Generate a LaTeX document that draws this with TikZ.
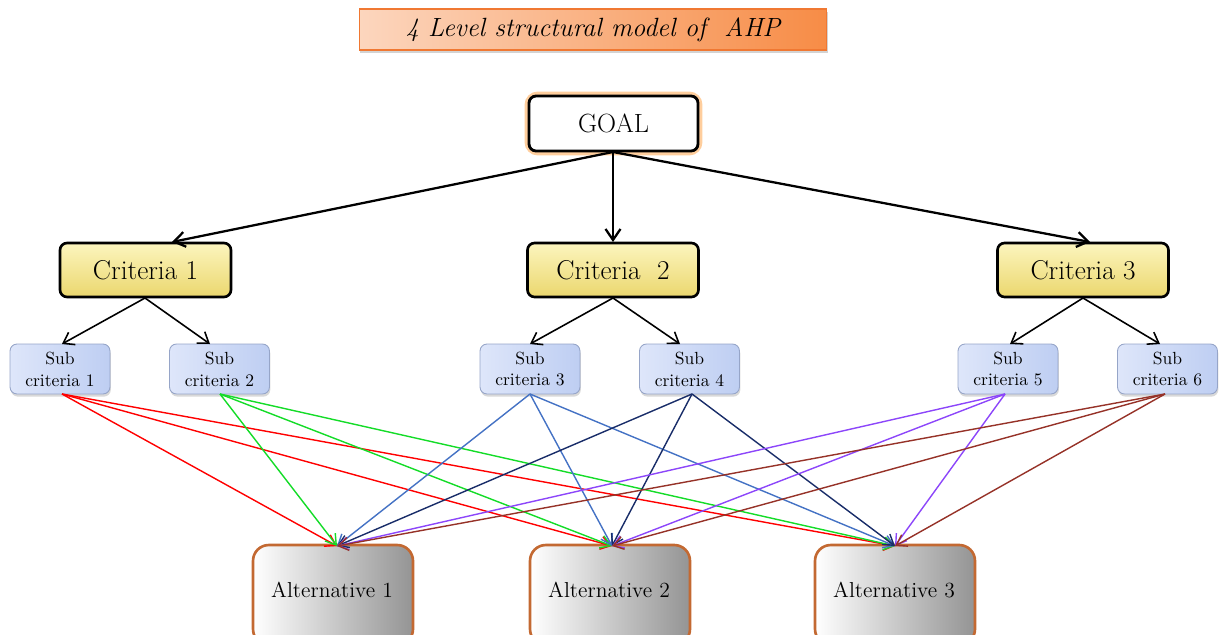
\documentclass[tikz,border=0pt]{standalone}
\usetikzlibrary{arrows.meta,shadows}
\definecolor{titleL}{RGB}{252,214,190}
\definecolor{titleR}{RGB}{247,140,70}
\definecolor{titleB}{RGB}{240,120,50}
\definecolor{critT}{RGB}{252,245,190}
\definecolor{critB}{RGB}{235,215,110}
\definecolor{subL}{RGB}{222,230,250}
\definecolor{subR}{RGB}{190,206,242}
\definecolor{subB}{RGB}{150,165,200}
\definecolor{altB}{RGB}{195,105,50}
\definecolor{cRed}{RGB}{255,0,0}
\definecolor{cGreen}{RGB}{20,220,40}
\definecolor{cBlue}{RGB}{68,114,196}
\definecolor{cNavy}{RGB}{25,45,105}
\definecolor{cPurple}{RGB}{140,70,250}
\definecolor{cBrown}{RGB}{150,50,40}
\tikzset{
  px/.style={x=0.02cm,y=-0.02cm},
  titlebox/.style={draw=titleB,line width=0.6pt,left color=titleL,right color=titleR,minimum width=9.36cm,minimum height=0.82cm,inner sep=0pt,drop shadow={shadow xshift=0.5pt,shadow yshift=-1.5pt,opacity=0.35}},
  goalbox/.style={draw=black,line width=1.6pt,fill=white,rounded corners=4pt,minimum width=3.38cm,minimum height=1.1cm,inner sep=0pt},
  critbox/.style={draw=black,line width=1.5pt,top color=critT,bottom color=critB,rounded corners=4pt,minimum width=3.42cm,minimum height=1.08cm,inner sep=0pt,font=\fontsize{15.5}{18}\selectfont},
  subbox/.style={draw=subB,line width=0.5pt,left color=subL,right color=subR,rounded corners=4pt,minimum width=2.0cm,minimum height=1.0cm,inner sep=0pt,align=center,font=\fontsize{10}{12.5}\selectfont,drop shadow={shadow xshift=0.5pt,shadow yshift=-1.5pt,opacity=0.3}},
  altbox/.style={draw=altB,line width=1.5pt,left color=white,right color=black!42,rounded corners=9pt,minimum width=3.2cm,minimum height=2.0cm,inner sep=0pt},
  alttext/.style={font=\fontsize{12.3}{14}\selectfont},
  blk/.style={-{Straight Barb[length=2.2mm,width=3mm]},line width=1.3pt,black},
  blk2/.style={-{Straight Barb[length=2mm,width=2.8mm]},line width=0.9pt,black},
  col/.style={-{Straight Barb[length=2mm,width=2.6mm]},line width=0.8pt}
}
\begin{document}
\begin{tikzpicture}[px]
\useasboundingbox (0,0) rectangle (1223,635);
% title
\node[titlebox] (title) at (593,29.5) {\fontsize{15}{17}\selectfont\itshape 4 Level structural model of\ \ AHP};
% goal glow
\draw[orange!45,line width=5pt,rounded corners=5pt,opacity=0.85] (529,96) rectangle (698,151);
\node[goalbox] (goal) at (613.5,123.5) {\fontsize{15}{17}\selectfont GOAL};
% criteria
\node[critbox] (c1) at (145.5,270) {Criteria 1};
\node[critbox] (c2) at (613,270) {Criteria\ \ 2};
\node[critbox] (c3) at (1083,270) {Criteria 3};
% sub criteria
\node[subbox] (s1) at (60,369) {Sub\\criteria 1};
\node[subbox] (s2) at (219.5,369) {Sub\\criteria 2};
\node[subbox] (s3) at (530,369) {Sub\\criteria 3};
\node[subbox] (s4) at (689.5,369) {Sub\\criteria 4};
\node[subbox] (s5) at (1008,369) {Sub\\criteria 5};
\node[subbox] (s6) at (1167.5,369) {Sub\\criteria 6};
% alternatives
\node[altbox] (a1) at (333,595) {};
\node[altbox] (a2) at (610,595) {};
\node[altbox] (a3) at (895,595) {};
\node[alttext] (t1) at (332,590) {Alternative 1};
\node[alttext] (t2) at (609,590) {Alternative 2};
\node[alttext] (t3) at (894,590) {Alternative 3};
% anchor coordinates
\coordinate (gB) at (613,152);
\coordinate (c1T) at (172,242);
\coordinate (c2T) at (613,242);
\coordinate (c3T) at (1090,242);
\coordinate (c1B) at (145,298);
\coordinate (c2B) at (613,298);
\coordinate (c3B) at (1083,298);
\coordinate (s1T) at (62,344);
\coordinate (s2T) at (210,344);
\coordinate (s3T) at (530,344);
\coordinate (s4T) at (680,344);
\coordinate (s5T) at (1010,344);
\coordinate (s6T) at (1160,344);
\coordinate (s1B) at (62,394);
\coordinate (s2B) at (220,394);
\coordinate (s3B) at (530,394);
\coordinate (s4B) at (692,394);
\coordinate (s5B) at (1005,394);
\coordinate (s6B) at (1165,394);
\coordinate (a1T) at (337,546);
\coordinate (a2T) at (612,546);
\coordinate (a3T) at (895,546);
% goal arrows
\draw[blk] (gB) -- (c1T);
\draw[blk] (gB) -- (c2T);
\draw[blk] (gB) -- (c3T);
% criteria arrows
\draw[blk2] (c1B) -- (s1T);
\draw[blk2] (c1B) -- (s2T);
\draw[blk2] (c2B) -- (s3T);
\draw[blk2] (c2B) -- (s4T);
\draw[blk2] (c3B) -- (s5T);
\draw[blk2] (c3B) -- (s6T);
% sub -> alt
\foreach \s/\c in {s1B/cRed,s2B/cGreen,s3B/cBlue,s4B/cNavy,s5B/cPurple,s6B/cBrown}{
  \draw[col,draw=\c] (\s) -- (a1T);
  \draw[col,draw=\c] (\s) -- (a2T);
  \draw[col,draw=\c] (\s) -- (a3T);
}
\end{tikzpicture}
\end{document}
